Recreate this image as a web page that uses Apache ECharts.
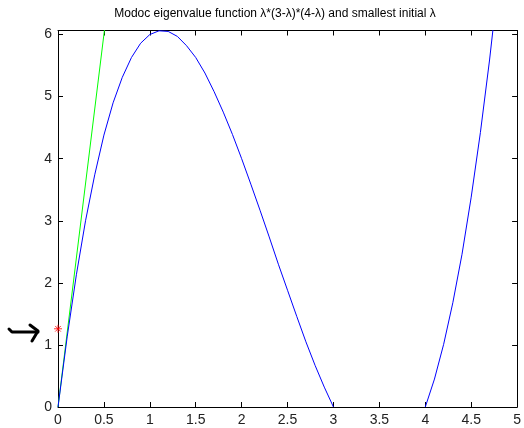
<!DOCTYPE html>
<html><head><meta charset="utf-8">
<script src="https://cdn.jsdelivr.net/npm/echarts@6/dist/echarts.min.js"></script>
<style>html,body{margin:0;padding:0;background:#fff}#c{width:524px;height:428px}</style>
</head><body><div id="c"></div>
<script>
const titleText = 'Modoc eigenvalue function \u03bb*(3-\u03bb)*(4-\u03bb) and smallest initial \u03bb';
// blue curve: lambda*(3-lambda)*(4-lambda)
const curveX1 = [0,0.1,0.2,0.3,0.4,0.5,0.6,0.7,0.8,0.9,1.0,1.1,1.2,1.3,1.4,1.5,1.6,1.7,1.8,1.9,2.0,2.1,2.2,2.3,2.4,2.5,2.6,2.7,2.8,2.9,3.0];
const curveY1 = [0,1.13,2.13,3.00,3.74,4.38,4.90,5.31,5.63,5.86,6.00,6.06,6.05,5.97,5.82,5.63,5.38,5.08,4.75,4.39,4.00,3.59,3.17,2.74,2.30,1.88,1.46,1.05,0.67,0.32,0];
const curveX2 = [4.0,4.1,4.2,4.3,4.4,4.5,4.6,4.7,4.8];
const curveY2 = [0,0.45,1.01,1.68,2.46,3.38,4.42,5.59,6.91];
// green tangent line
const lineX = [0,0.55];
const lineY = [0,6.6];
// red star: smallest initial lambda
const starX = [0];
const starY = [1.26];
const xTicks = ['0','0.5','1','1.5','2','2.5','3','3.5','4','4.5','5'];
const yTicks = ['0','1','2','3','4','5','6'];

const blue = curveX1.map((x,i)=>[x,curveY1[i]]).concat([[null,null]]).concat(curveX2.map((x,i)=>[x,curveY2[i]]));
const green = lineX.map((x,i)=>[x,lineY[i]]);
const star = starX.map((x,i)=>[x,starY[i]]);

const chart = echarts.init(document.getElementById('c'), null, {renderer:'canvas'});
const lab = {fontFamily:'Liberation Sans', fontSize:14, color:'#222'};
const axLine = {show:true, onZero:false, lineStyle:{color:'#000', width:1}};
const tick = {show:true, inside:true, length:5, lineStyle:{color:'#000'}};
chart.setOption({
  animation:false,
  backgroundColor:'#fff',
  title:{text:titleText, left:270, top:3, textAlign:'center',
    textStyle:{fontFamily:'Liberation Sans', fontSize:12, fontWeight:'normal', color:'#000'}},
  grid:{left:58, right:2, top:30.5, bottom:21, containLabel:false},
  xAxis:[
    {type:'value', min:0, max:5, interval:0.5, position:'bottom', axisLine:axLine, axisTick:tick,
     splitLine:{show:false}, axisLabel:Object.assign({margin:6, formatter:v=>xTicks.includes(String(v))?String(v):''}, lab)},
    {type:'value', min:0, max:5, interval:0.5, position:'top', axisLine:axLine, axisTick:tick,
     splitLine:{show:false}, axisLabel:{show:false}}
  ],
  yAxis:[
    {type:'value', min:0, max:6.065, interval:1, position:'left', axisLine:axLine, axisTick:tick,
     splitLine:{show:false}, axisLabel:Object.assign({margin:6, formatter:v=>yTicks.includes(String(v))?String(v):''}, lab)},
    {type:'value', min:0, max:6.065, interval:1, position:'right', axisLine:axLine, axisTick:tick,
     splitLine:{show:false}, axisLabel:{show:false}}
  ],
  series:[
    {type:'line', data:blue, showSymbol:false, connectNulls:false, clip:true,
     lineStyle:{color:'#0000ff', width:1}, z:3},
    {type:'line', data:green, showSymbol:false, clip:true,
     lineStyle:{color:'#00ff00', width:1}, z:2},
    {type:'scatter', data:star, symbol:'path://M0,4L8,4M4,0L4,8M1.2,1.2L6.8,6.8M6.8,1.2L1.2,6.8', symbolSize:8,
     clip:false, itemStyle:{color:'none', borderColor:'#ff0000', borderWidth:1}, z:4}
  ],
  graphic:[
    {type:'polyline', shape:{points:[[9,329],[12,332],[38,332]]}, style:{stroke:'#000', lineWidth:3, fill:null, lineJoin:'round', lineCap:'round'}},
    {type:'polyline', shape:{points:[[30,325],[38,331],[32,341]]}, style:{stroke:'#000', lineWidth:3, fill:null, lineJoin:'round', lineCap:'round'}}
  ]
});
</script></body></html>
